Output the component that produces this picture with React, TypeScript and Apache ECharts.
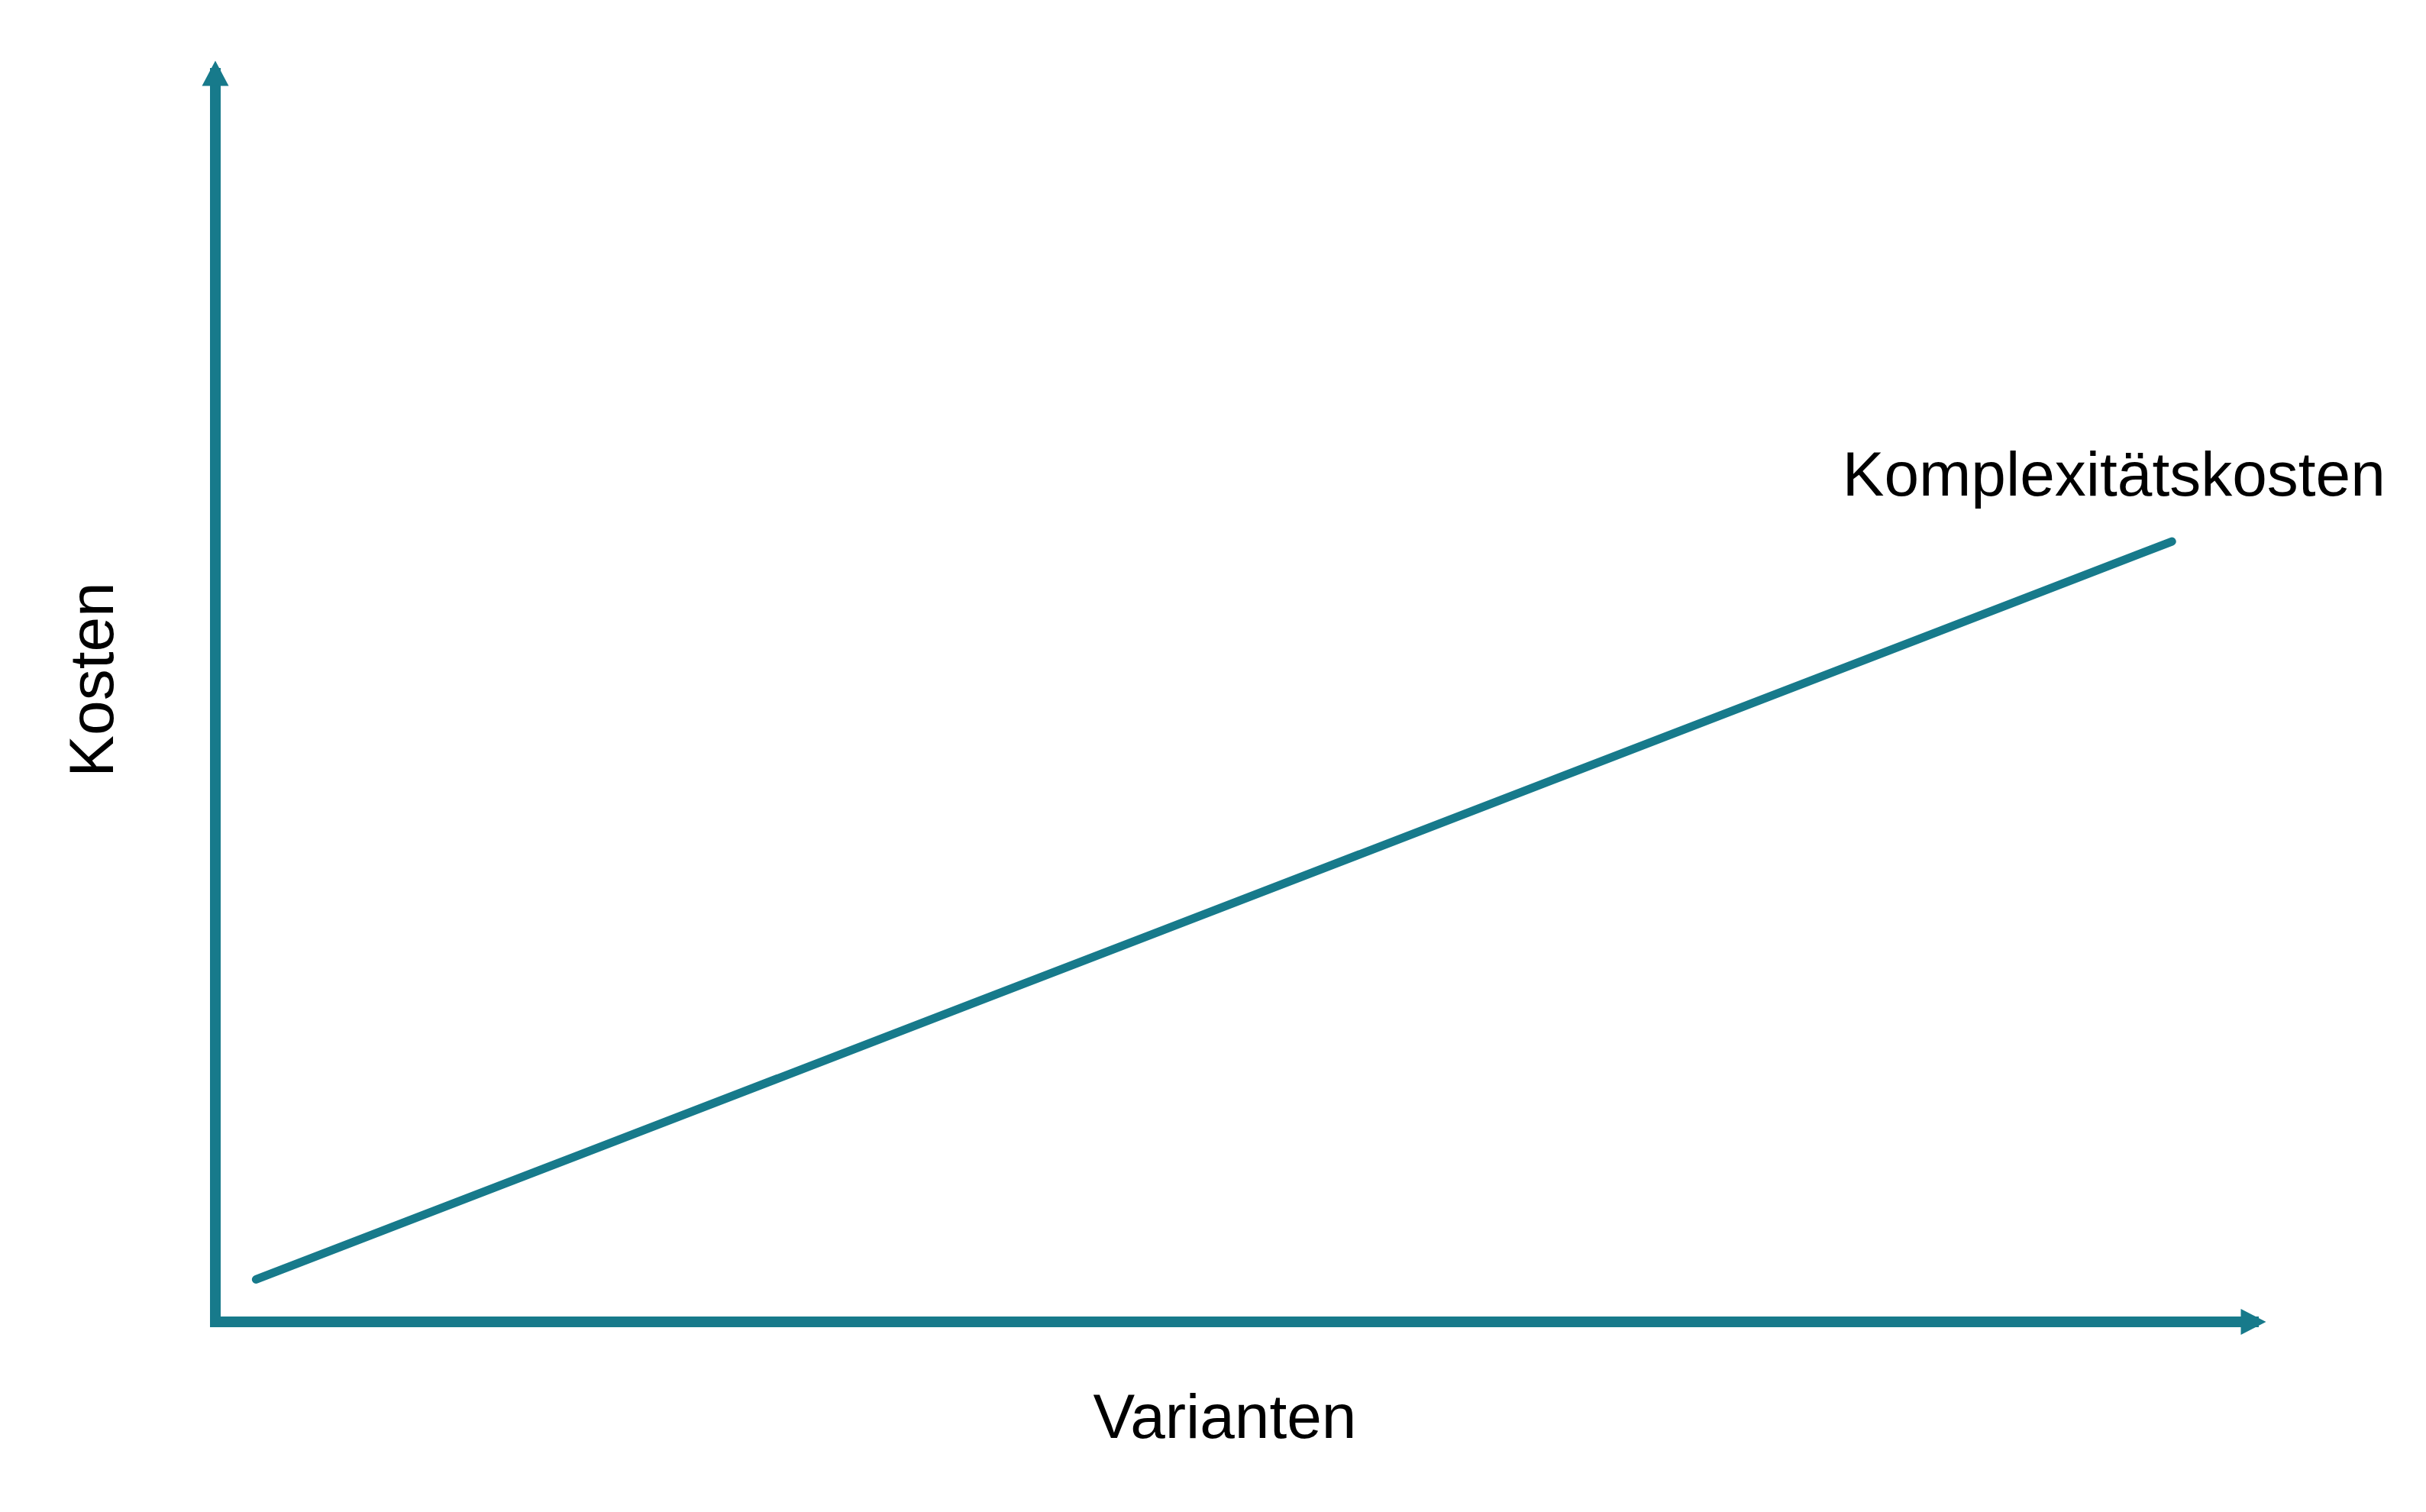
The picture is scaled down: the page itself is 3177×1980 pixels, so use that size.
import React, { useEffect, useRef } from "react";
import * as echarts from "echarts";

// Data
const seriesName = "Komplexitätskosten";
const xAxisName = "Varianten";
const yAxisName = "Kosten";
const varianten = [2, 96];
const kosten = [3.4, 62.5];

const TEAL = "#177a8b";
const FONT = "Liberation Sans, Arial, sans-serif";

export default function App() {
  const ref = useRef<HTMLDivElement>(null);

  useEffect(() => {
    if (!ref.current) return;
    const chart = echarts.init(ref.current, undefined, { renderer: "svg" });
    const data = varianten.map((x, i) => {
      const last = i === varianten.length - 1;
      return {
        value: [x, kosten[i]],
        label: last
          ? {
              show: true,
              formatter: "{a}",
              position: "top",
              distance: 5,
              offset: [-76, -42],
              fontSize: 82,
              lineHeight: 82,
              fontFamily: FONT,
              color: "#000",
            }
          : { show: false },
      };
    });
    chart.setOption({
      animation: false,
      backgroundColor: "#ffffff",
      grid: { left: 282, top: 96, right: 226, bottom: 249, containLabel: false },
      xAxis: {
        type: "value",
        min: 0,
        max: 100,
        name: xAxisName,
        nameLocation: "middle",
        nameGap: 82,
        nameTextStyle: {
          fontSize: 82,
          lineHeight: 82,
          fontFamily: FONT,
          color: "#000",
          padding: [0, 25, 0, 0],
        },
        axisLine: {
          show: true,
          symbol: ["none", "triangle"],
          symbolSize: [34, 33],
          lineStyle: { color: TEAL, width: 14, cap: "square" },
        },
        axisTick: { show: false },
        axisLabel: { show: false },
        splitLine: { show: false },
      },
      yAxis: {
        type: "value",
        min: 0,
        max: 100,
        name: yAxisName,
        nameLocation: "middle",
        nameRotate: 90,
        nameGap: 122,
        nameTextStyle: {
          fontSize: 82,
          lineHeight: 82,
          fontFamily: FONT,
          color: "#000",
          padding: [0, 0, 0, 47],
        },
        axisLine: {
          show: true,
          symbol: ["none", "triangle"],
          symbolSize: [35, 33],
          lineStyle: { color: TEAL, width: 14, cap: "square" },
        },
        axisTick: { show: false },
        axisLabel: { show: false },
        splitLine: { show: false },
      },
      series: [
        {
          name: seriesName,
          type: "line",
          data,
          symbol: "circle",
          symbolSize: 1,
          showSymbol: true,
          itemStyle: { color: TEAL },
          lineStyle: { color: TEAL, width: 11, cap: "round" },
          emphasis: { disabled: true },
          silent: true,
        },
      ],
    });
    return () => chart.dispose();
  }, []);

  return (
    <div
      ref={ref}
      style={{ position: "fixed", left: 0, top: 0, width: 3177, height: 1980 }}
    />
  );
}
